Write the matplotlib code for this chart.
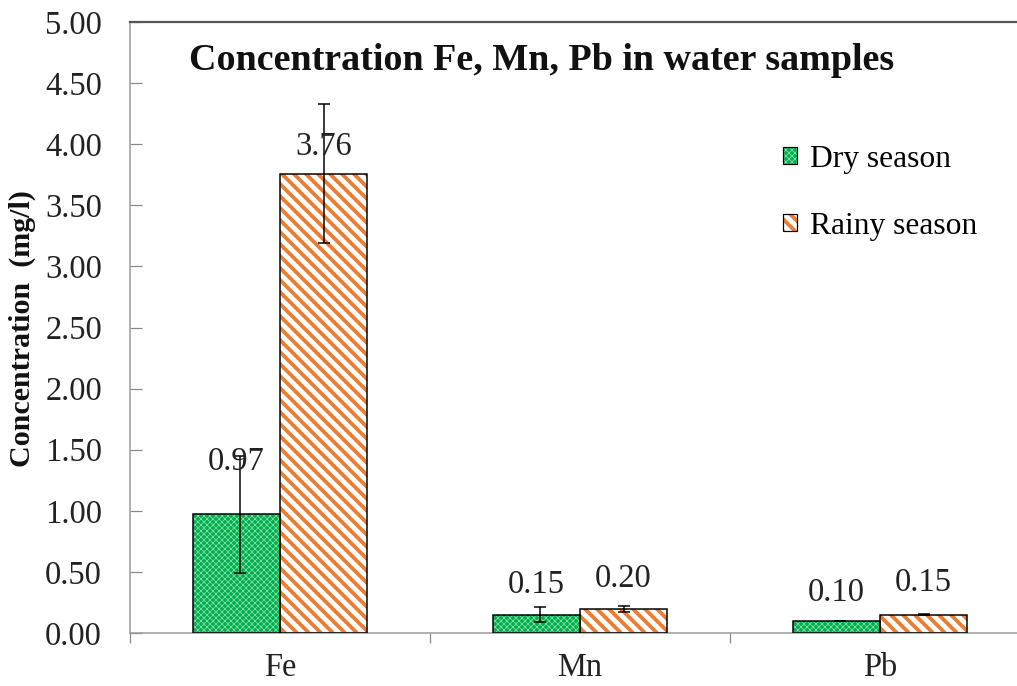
import matplotlib
matplotlib.use("Agg")
import matplotlib.pyplot as plt
import numpy as np
from matplotlib.patches import Patch, Rectangle

categories = ["Fe", "Mn", "Pb"]
dry = [0.97, 0.15, 0.10]
rainy = [3.76, 0.20, 0.15]
dry_err = [0.48, 0.06, 0.0]
rainy_err = [0.57, 0.025, 0.006]
series_names = ["Dry season", "Rainy season"]
yticks = [0.0, 0.5, 1.0, 1.5, 2.0, 2.5, 3.0, 3.5, 4.0, 4.5, 5.0]
title = "Concentration Fe, Mn, Pb in water samples"
ylabel = "Concentration  (mg/l)"

plt.rcParams['font.family'] = ['Liberation Serif', 'DejaVu Serif']
plt.rcParams['hatch.linewidth'] = 1.6

DPI = 72
fig = plt.figure(figsize=(1017 / DPI, 686 / DPI), dpi=DPI)
ax = fig.add_axes([130 / 1017, 53 / 686, (1017 - 130) / 1017, (633 - 22) / 686])

x = np.arange(len(categories))
w = 0.29
green = '#00B050'
orange = '#ED7D31'
dotc = '#8ee0ac'
txtc = '#222222'
FS = 32.5


def set_hlw(p, lw):
    if hasattr(p, 'set_hatch_linewidth'):
        p.set_hatch_linewidth(lw)


# dry: green with light fine cross hatch
b1 = ax.bar(x - w / 2, dry, w, color=green, edgecolor=dotc, hatch='xxxx', linewidth=0, zorder=2)
for p in b1:
    set_hlw(p, 0.7)
ax.bar(x - w / 2, dry, w, fill=False, edgecolor='black', linewidth=1.5, zorder=3)
# rainy: white with orange diagonal stripes
b2 = ax.bar(x + w / 2, rainy, w, color='white', edgecolor=orange, hatch='\\\\', linewidth=0, zorder=2)
for p in b2:
    set_hlw(p, 3.8)
ax.bar(x + w / 2, rainy, w, fill=False, edgecolor='black', linewidth=1.5, zorder=3)

ax.errorbar(x - w / 2 + 0.01, dry, yerr=dry_err, fmt='none', ecolor='black', elinewidth=1.5, capsize=6, capthick=1.5, zorder=4)
ax.errorbar(x + w / 2, rainy, yerr=rainy_err, fmt='none', ecolor='black', elinewidth=1.5, capsize=6, capthick=1.5, zorder=4)

# value labels
dry_off = [53, 30, 28]
rainy_off = [27, 30, 32]
for i in range(len(categories)):
    ax.annotate(f"{dry[i]:.2f}", (x[i] - w / 2, dry[i]), xytext=(0, dry_off[i]), textcoords='offset points',
                ha='center', va='center', fontsize=FS, color=txtc, zorder=5)
    ax.annotate(f"{rainy[i]:.2f}", (x[i] + w / 2, rainy[i]), xytext=(0, rainy_off[i]), textcoords='offset points',
                ha='center', va='center', fontsize=FS, color=txtc, zorder=5)

ax.set_xlim(-0.5, 2 + (1017 - 880) / 300)
ax.set_ylim(0, 5.0)
ax.set_yticks(yticks)
ax.set_yticklabels([f"{v:.2f}" for v in yticks], fontsize=FS, color=txtc)
ax.tick_params(axis='y', direction='in', length=12, width=1.2, color='#888888', pad=28)
ax.set_xticks(x)
ax.set_xticklabels(categories, fontsize=FS, color=txtc)
ax.tick_params(axis='x', which='major', length=0, pad=19)
ax.set_xticks([-0.5, 0.5, 1.5], minor=True)
ax.tick_params(axis='x', which='minor', direction='out', length=10, width=1.2, color='#888888')

for s in ['left', 'bottom']:
    ax.spines[s].set_color('#999999')
    ax.spines[s].set_linewidth(1.5)
ax.spines['right'].set_visible(False)
ax.spines['top'].set_color('#555555')
ax.spines['top'].set_linewidth(2.2)

fig.text(22 / 1017, 1 - 329 / 686, ylabel, rotation=90, fontsize=30, fontweight='bold',
         ha='center', va='center', color='#111111')

fig.text(542 / 1017, 1 - 61 / 686, title, fontsize=38, fontweight='bold', ha='center', va='center', color='#111111')

h1 = Patch(facecolor=green, edgecolor=dotc, hatch='xxxx', linewidth=0)
h2 = Patch(facecolor='white', edgecolor=orange, hatch='\\\\', linewidth=0)
o1 = Patch(fill=False, edgecolor='black', linewidth=1.2)
o2 = Patch(fill=False, edgecolor='black', linewidth=1.2)
leg = fig.legend([(h1, o1), (h2, o2)], series_names, loc='upper left', bbox_to_anchor=(783 / 1017, 1 - 145 / 686),
                 frameon=False, fontsize=31.5, handlelength=0.45, handleheight=0.45, handletextpad=0.4,
                 labelspacing=1.2, borderaxespad=0, borderpad=0)
for r in leg.findobj(Rectangle):
    hp = r.get_hatch()
    if hp == 'xxxx':
        set_hlw(r, 0.7)
    elif hp == '\\\\':
        set_hlw(r, 3.8)
fig.savefig("out.png", dpi=DPI)
